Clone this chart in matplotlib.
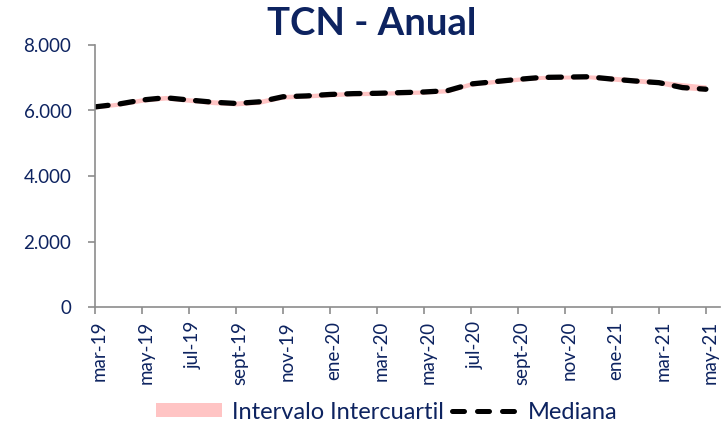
import matplotlib.pyplot as plt
import matplotlib.transforms as mtrans
import numpy as np
from matplotlib.patches import Patch
from matplotlib.lines import Line2D

meses = ['mar-19', 'abr-19', 'may-19', 'jun-19', 'jul-19', 'ago-19', 'sept-19',
         'oct-19', 'nov-19', 'dic-19', 'ene-20', 'feb-20', 'mar-20', 'abr-20',
         'may-20', 'jun-20', 'jul-20', 'ago-20', 'sept-20', 'oct-20', 'nov-20',
         'dic-20', 'ene-21', 'feb-21', 'mar-21', 'abr-21', 'may-21']
mediana = [6110, 6195, 6320, 6390, 6320, 6255, 6215, 6265, 6420, 6445,
           6490, 6515, 6525, 6545, 6565, 6605, 6810, 6880, 6950, 7010,
           7020, 7030, 6960, 6900, 6850, 6700, 6650]
q1 = [6050, 6130, 6250, 6320, 6250, 6180, 6140, 6190, 6350, 6380,
      6420, 6450, 6460, 6480, 6500, 6540, 6740, 6820, 6890, 6950,
      6960, 6970, 6900, 6840, 6790, 6640, 6590]
q3 = [6170, 6260, 6390, 6460, 6390, 6330, 6290, 6340, 6490, 6510,
      6560, 6580, 6590, 6610, 6630, 6670, 6880, 6950, 7020, 7070,
      7080, 7090, 7050, 6990, 6930, 6850, 6780]

navy = '#0d2360'
pink = '#ffc4c4'
x = np.arange(len(meses))

fig = plt.figure(figsize=(7.25, 4.23), dpi=100)
ax = fig.add_axes([95/725, 1 - 307/423, 625/725, 262/423])

ax.fill_between(x, q1, q3, color=pink, lw=0)
ax.plot(x, mediana, color='black', lw=3.8, ls=(0, (2.5, 2.3)), dash_capstyle='round')

ax.set_xlim(0, 26.6)
ax.set_ylim(0, 8000)
ax.set_yticks([0, 2000, 4000, 6000, 8000])
ax.set_yticklabels(['0', '2.000', '4.000', '6.000', '8.000'])
ax.set_xticks(x[::2])
ax.set_xticklabels(meses[::2], rotation=90)

for s in ['top', 'right']:
    ax.spines[s].set_visible(False)
for s in ['left', 'bottom']:
    ax.spines[s].set_color('#8c8c8c')
    ax.spines[s].set_linewidth(1.2)
ax.tick_params(axis='both', colors='#8c8c8c', length=5, width=1.2)
ax.tick_params(axis='y', labelcolor=navy, labelsize=13.5, pad=12)
ax.tick_params(axis='x', labelcolor=navy, labelsize=13.5, pad=5)
# labels sit a little right of their ticks in the original
shift = mtrans.ScaledTranslation(4/100, 0, fig.dpi_scale_trans)
for lab in ax.get_xticklabels():
    lab.set_family('Lato')
    lab.set_transform(lab.get_transform() + shift)
for lab in ax.get_yticklabels():
    lab.set_family('Lato')

fig.text(0.513, 0.944, 'TCN - Anual', ha='center', va='center', fontsize=27.5,
         fontweight='bold', color=navy, family='Lato')

handles = [Patch(color=pink, lw=0),
           Line2D([0], [0], color='black', lw=3.6, ls=(0, (2.4, 2.6)), dash_capstyle='round')]
leg = fig.legend(handles, ['Intervalo Intercuartil', 'Mediana'], loc='center',
                 bbox_to_anchor=(0.533, 0.026), ncol=2, frameon=False,
                 prop={'family': 'Lato', 'size': 17}, handlelength=2.8,
                 handleheight=0.5, handletextpad=0.42, columnspacing=0.35,
                 borderpad=0.1)
for t in leg.get_texts():
    t.set_color(navy)

fig.savefig('out.png', dpi=100)
